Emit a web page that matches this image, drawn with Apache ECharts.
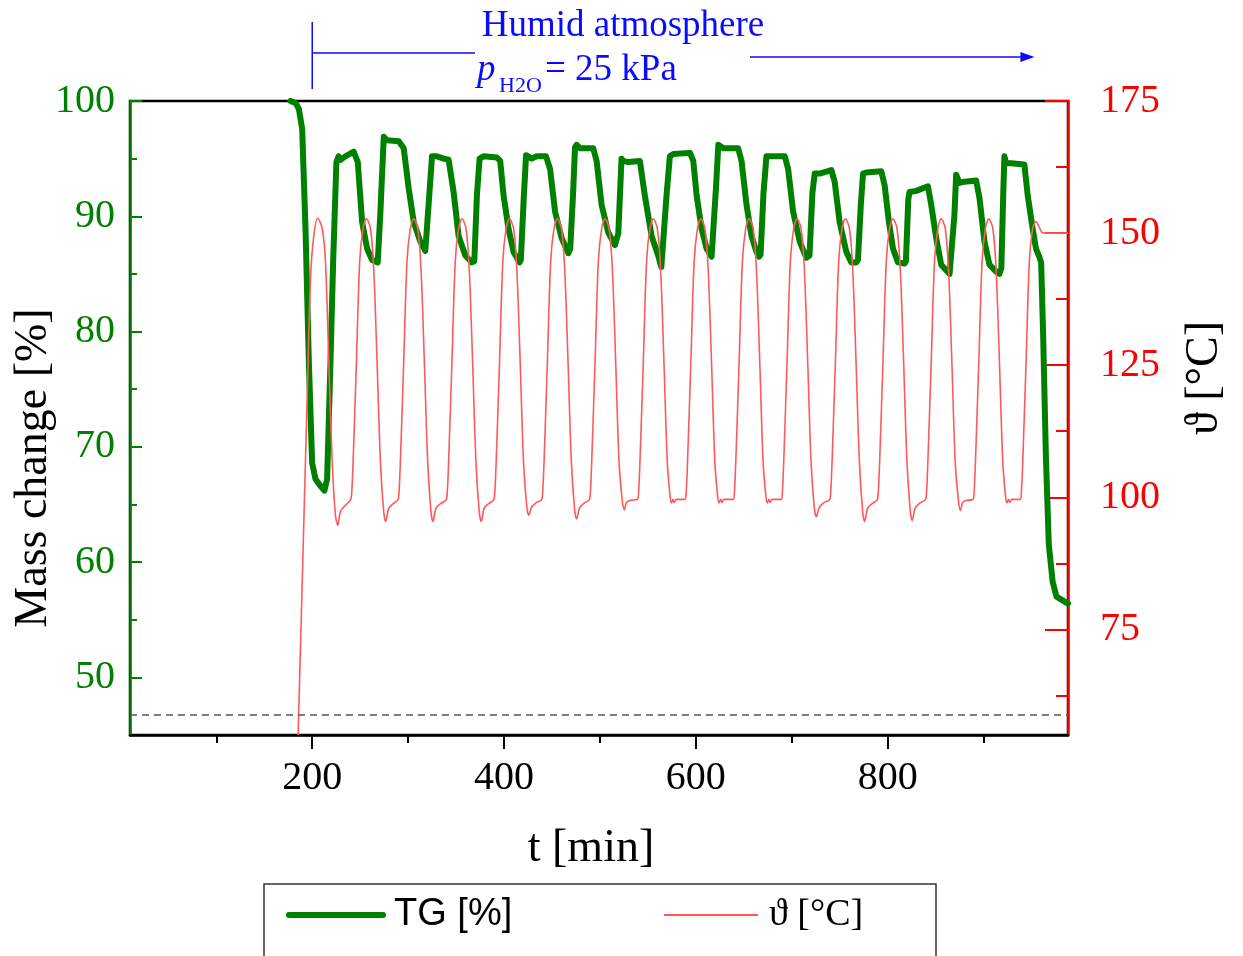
<!DOCTYPE html>
<html>
<head>
<meta charset="utf-8">
<script src="https://cdn.jsdelivr.net/npm/echarts@6/dist/echarts.min.js"></script>
<style>
html,body{margin:0;padding:0;background:#fff;}
#chart{width:1243px;height:956px;}
</style>
</head>
<body>
<div id="chart"></div>
<script>
// ---- data ----
// TG (mass change, %) : [t (min), value]
const tgData = [
[177.4,100],[183.0,99.8],[186.1,99.3],[189.5,97.6],[193.0,88.9],[196.5,77.3],[199.9,68.6],[203.4,67.2],[208.6,66.6],[212.7,66.2],[215.5,67.2],[219.0,77.3],[221.8,86.0],[225.2,94.7],[227.5,95.2],[229.5,94.9],[234.6,95.2],[243.3,95.6],[247.5,94.7],[252.0,89.5],[257.2,87.2],[262.4,86.2],[268.3,86.0],[271.1,90.4],[274.6,96.9],[278.0,96.6],[290.2,96.5],[295.4,95.9],[300.6,92.4],[305.8,89.5],[312.7,87.8],[317.9,87.0],[319.8,87.0],[324.9,95.2],[330.1,95.2],[337.0,95.0],[342.2,94.9],[347.4,92.1],[352.6,88.3],[359.6,86.6],[366.5,86.0],[369.0,86.1],[371.7,91.8],[374.5,95.0],[378.6,95.2],[392.5,95.1],[396.0,94.8],[399.5,91.8],[404.7,88.9],[409.9,86.9],[416.1,86.0],[417.5,86.2],[420.5,91.5],[423.0,95.3],[428.9,95.0],[434.1,95.2],[443.8,95.2],[448.0,94.1],[453.2,90.4],[460.1,88.1],[467.1,86.8],[469.0,87.2],[472.0,92.0],[474.0,96.0],[475.7,96.2],[479.2,95.9],[493.0,95.9],[496.5,94.8],[501.7,91.0],[508.6,88.6],[515.6,87.5],[517.3,87.4],[519.1,88.5],[522.5,95.0],[524.3,94.8],[529.5,94.7],[541.6,94.8],[546.8,91.8],[553.8,88.3],[560.7,86.6],[564.0,85.6],[566.0,85.7],[569.4,91.8],[572.9,95.2],[576.5,95.4],[593.9,95.5],[597.3,94.8],[600.8,91.8],[606.0,88.9],[611.2,87.2],[616.4,86.5],[618.0,86.6],[621.0,92.5],[623.4,96.2],[625.0,96.3],[628.5,95.9],[644.1,95.9],[647.6,94.8],[652.8,91.0],[658.0,88.3],[663.2,86.9],[666.0,86.5],[667.5,86.7],[670.5,92.0],[673.6,95.2],[678.8,95.2],[692.7,95.2],[696.2,94.1],[701.4,90.4],[708.3,87.8],[715.2,86.4],[717.0,86.3],[718.5,86.6],[721.5,92.0],[723.9,93.7],[729.1,93.7],[741.3,94.0],[744.7,93.0],[749.9,89.5],[756.9,86.9],[762.1,86.0],[767.3,86.0],[769.0,86.2],[772.0,91.0],[774.3,93.7],[777.7,93.8],[793.3,93.9],[796.8,92.7],[801.3,89.5],[805.5,87.2],[810.7,86.0],[817.6,85.9],[819.0,86.1],[821.5,91.5],[822.8,92.1],[829.8,92.2],[841.9,92.6],[845.4,91.0],[850.6,88.1],[855.8,85.8],[864.5,85.0],[866.5,85.1],[869.5,90.0],[871.4,93.6],[874.9,92.9],[880.1,93.0],[892.2,93.1],[895.7,91.6],[900.9,87.8],[906.1,85.8],[913.1,85.2],[916.5,85.0],[918.5,85.5],[920.5,92.0],[921.7,95.2],[923.5,94.6],[928.7,94.6],[942.5,94.5],[946.0,91.8],[951.2,88.9],[954.6,87.2],[958.0,86.5],[960.0,86.0],[962.0,80.0],[965.0,69.0],[968.0,61.5],[972.0,58.3],[976.0,57.0],[988.0,56.4]
];

// Temperature (°C) : [t (min), value]
const tempData = [
[185.3,55.0],[190.6,91.0],[194.8,119.3],[198.2,141.4],[201.7,149.6],[205.8,152.8],[210.4,150.9],[213.8,144.6],[217.3,125.7],[220.8,106.7],[224.2,96.6],[226.7,94.7],[229.4,97.3],[234.6,98.5],[240.0,99.5],
[241.2,101.0],[242.6,106.7],[246.1,125.7],[249.5,144.6],[253.0,150.9],[256.5,152.7],[260.7,150.9],[264.1,143.3],[267.6,125.7],[271.1,106.7],[274.5,97.3],[276.6,95.4],[279.7,97.9],[284.5,98.8],[289.3,99.5],
[290.5,101.0],[291.9,106.7],[295.4,125.7],[298.8,144.6],[302.3,150.9],[305.8,152.7],[310.0,150.9],[313.4,143.3],[316.9,125.7],[320.4,106.7],[323.8,97.3],[325.9,95.4],[329.0,97.9],[333.8,98.8],[339.6,99.5],
[340.8,101.0],[342.2,106.7],[345.7,125.7],[349.1,144.6],[352.6,150.9],[356.1,152.7],[360.3,150.9],[363.7,143.3],[367.2,125.7],[370.7,106.7],[374.1,97.3],[376.2,95.4],[379.3,97.9],[384.1,98.8],[389.2,99.5],
[390.4,101.0],[391.8,106.7],[395.3,125.7],[398.7,144.6],[402.2,150.9],[405.7,152.7],[409.9,150.9],[413.3,143.3],[416.8,125.7],[420.3,106.7],[423.7,98.2],[425.8,96.6],[428.9,98.2],[433.7,99.0],[439.1,99.5],
[440.3,101.0],[441.7,106.7],[445.2,125.7],[448.6,144.6],[452.1,150.9],[455.6,152.7],[459.8,150.9],[463.2,143.3],[466.7,125.7],[470.2,106.7],[473.6,97.6],[475.7,95.9],[478.8,98.0],[483.6,98.9],[488.8,99.5],
[490.0,101.0],[491.4,106.7],[494.9,125.7],[498.3,144.6],[501.8,150.9],[505.3,152.7],[509.5,150.9],[512.9,143.3],[516.4,125.7],[519.9,106.7],[523.3,99.3],[525.4,97.6],[527.5,99.0],[531.0,99.4],[539.1,99.6],
[540.3,101.0],[541.7,106.7],[545.2,125.7],[548.6,144.6],[552.1,150.9],[555.6,152.7],[559.8,150.9],[563.2,143.3],[566.7,125.7],[570.2,106.7],[573.1,100.2],[574.6,98.9],[576.1,99.6],[577.6,99.0],[579.6,99.6],[588.7,99.6],
[589.9,101.0],[591.3,106.7],[594.8,125.7],[598.2,144.6],[601.7,150.9],[605.2,152.7],[609.4,150.9],[612.8,143.3],[616.3,125.7],[619.8,106.7],[622.7,100.2],[624.2,98.9],[625.7,99.6],[627.2,99.0],[629.2,99.6],[639.0,99.6],
[640.2,101.0],[641.6,106.7],[645.1,125.7],[648.5,144.6],[652.0,150.9],[655.5,152.7],[659.7,150.9],[663.1,143.3],[666.6,125.7],[670.1,106.7],[673.0,100.2],[674.5,98.9],[676.0,99.6],[677.5,99.0],[679.5,99.6],[689.0,99.6],
[690.2,101.0],[691.6,106.7],[695.1,125.7],[698.5,144.6],[702.0,150.9],[705.5,152.7],[709.7,150.9],[713.1,143.3],[716.6,125.7],[720.1,106.7],[723.5,98.0],[725.6,96.3],[728.7,98.1],[733.5,99.0],[739.4,99.5],
[740.6,101.0],[742.0,106.7],[745.5,125.7],[748.9,144.6],[752.4,150.9],[755.9,152.7],[760.1,150.9],[763.5,143.3],[767.0,125.7],[770.5,106.7],[773.9,97.3],[776.0,95.4],[779.1,97.9],[783.9,98.8],[789.0,99.5],
[790.2,101.0],[791.6,106.7],[795.1,125.7],[798.5,144.6],[802.0,150.9],[805.5,152.7],[809.7,150.9],[813.1,143.3],[816.6,125.7],[820.1,106.7],[823.5,97.5],[825.6,95.6],[828.7,98.0],[833.5,98.9],[839.3,99.5],
[840.5,101.0],[841.9,106.7],[845.4,125.7],[848.8,144.6],[852.3,150.9],[855.8,152.7],[860.0,150.9],[863.4,143.3],[866.9,125.7],[870.4,106.7],[873.8,99.3],[875.9,97.5],[878.0,99.0],[881.5,99.4],[888.9,99.6],
[890.1,101.0],[891.5,106.7],[895.0,125.7],[898.4,144.6],[901.9,150.9],[905.4,152.7],[909.6,150.9],[913.0,143.3],[916.5,125.7],[920.0,106.7],[922.9,100.2],[924.4,98.9],[925.9,99.6],[927.4,99.0],[929.4,99.6],[938.2,99.6],
[939.4,101.0],[940.8,106.7],[944.3,125.7],[947.7,144.6],[951.2,150.9],[954.7,152.2],[957.5,151.3],[960.5,150.2],[963.0,150.0],[988.0,150.0]
];

const massRefLevel = 46.8;            // dashed reference line, % mass
const xMajorTicks = [200, 400, 600, 800];
const xMinorTicks = [100, 300, 500, 700, 900];
const leftMajorTicks = [50, 60, 70, 80, 90, 100];
const leftMinorTicks = [55, 65, 75, 85, 95];
const rightMajorTicks = [75, 100, 125, 150, 175];
const rightMinorTicks = [62.5, 87.5, 112.5, 137.5, 162.5];
const humidStart = 200;   // t where humid atmosphere begins
const humidEnd = 953;     // t where the arrow ends

// ---- chart ----
const SERIF = '"Liberation Serif", "Times New Roman", serif';
const SANS = '"Liberation Sans", Arial, sans-serif';
const GREEN = '#008000';
const RED = '#ff0000';
const TEMP = '#ff5a5a';

const chart = echarts.init(document.getElementById('chart'), null, {renderer: 'canvas'});

const hiddenSymbol = {color: 'rgba(0,0,0,0)', borderWidth: 0, opacity: 0};

const option = {
  animation: false,
  backgroundColor: '#ffffff',
  grid: {
    left: 130, top: 101, width: 938, height: 634,
    containLabel: false, outerBoundsMode: 'none',
    show: true, borderColor: '#000', borderWidth: 2.5, backgroundColor: 'transparent'
  },
  legend: [
    {
      data: ['TG [%]'], left: 286, top: 896, padding: 0,
      itemWidth: 94, itemHeight: 20,
      itemStyle: hiddenSymbol,
      lineStyle: {color: GREEN, width: 6, cap: 'round'},
      textStyle: {fontFamily: SANS, fontSize: 38, color: '#000', padding: [0, 0, 0, 6]}
    },
    {
      data: ['ϑ [°C]'], left: 663, top: 896, padding: 0,
      itemWidth: 94, itemHeight: 20,
      itemStyle: hiddenSymbol,
      lineStyle: {color: TEMP, width: 2},
      textStyle: {fontFamily: SERIF, fontSize: 38, color: '#000', padding: [0, 0, 0, 6]}
    }
  ],
  xAxis: [
    {
      type: 'value', min: 10, max: 988, position: 'bottom',
      axisLine: {show: true, lineStyle: {color: '#000', width: 2.5}},
      axisTick: {show: true, inside: false, length: 14, customValues: xMajorTicks, lineStyle: {color: '#000', width: 2}},
      axisLabel: {customValues: xMajorTicks, margin: 23, fontSize: 40, fontFamily: SERIF, color: '#000'},
      splitLine: {show: false},
      name: 't [min]', nameLocation: 'middle', nameGap: 91, nameMoveOverlap: false,
      nameTextStyle: {fontFamily: SERIF, fontSize: 46, color: '#000', padding: [0, 16, 0, 0]}
    },
    {
      type: 'value', min: 10, max: 988, position: 'bottom',
      axisLine: {show: false},
      axisTick: {show: true, inside: false, length: 8, customValues: xMinorTicks, lineStyle: {color: '#000', width: 2}},
      axisLabel: {show: false},
      splitLine: {show: false}
    }
  ],
  yAxis: [
    {
      type: 'value', min: 45, max: 100, position: 'left',
      axisLine: {show: true, lineStyle: {color: GREEN, width: 2.5}},
      axisTick: {show: true, inside: true, length: 12, customValues: leftMajorTicks, lineStyle: {color: GREEN, width: 2}},
      axisLabel: {customValues: leftMajorTicks, margin: 15, fontSize: 40, fontFamily: SERIF, color: GREEN},
      splitLine: {show: false},
      name: 'Mass change [%]', nameLocation: 'middle', nameGap: 73, nameMoveOverlap: false,
      nameTextStyle: {fontFamily: SERIF, fontSize: 46, color: '#000', padding: [0, 100, 0, 0]}
    },
    {
      type: 'value', min: 45, max: 100, position: 'left',
      axisLine: {show: false},
      axisTick: {show: true, inside: true, length: 7, customValues: leftMinorTicks, lineStyle: {color: GREEN, width: 2}},
      axisLabel: {show: false},
      splitLine: {show: false}
    },
    {
      type: 'value', min: 55, max: 175, position: 'right',
      axisLine: {show: true, lineStyle: {color: RED, width: 2.5}},
      axisTick: {show: true, inside: true, length: 23, customValues: rightMajorTicks, lineStyle: {color: RED, width: 2}},
      axisLabel: {customValues: rightMajorTicks, margin: 32, fontSize: 40, fontFamily: SERIF, color: RED},
      splitLine: {show: false},
      name: 'ϑ [°C]', nameLocation: 'middle', nameGap: 114, nameMoveOverlap: false,
      nameTextStyle: {fontFamily: SERIF, fontSize: 46, color: '#000', padding: [0, 0, 0, 80]}
    },
    {
      type: 'value', min: 55, max: 175, position: 'right',
      axisLine: {show: false},
      axisTick: {show: true, inside: true, length: 12, customValues: rightMinorTicks, lineStyle: {color: RED, width: 2}},
      axisLabel: {show: false},
      splitLine: {show: false}
    }
  ],
  series: [
    {
      name: 'TG [%]', type: 'line', xAxisIndex: 0, yAxisIndex: 0,
      data: tgData, symbol: 'none', showSymbol: false,
      lineStyle: {color: GREEN, width: 6, cap: 'round', join: 'round'},
      itemStyle: {color: GREEN},
      z: 3,
      markLine: {
        silent: true, symbol: 'none',
        label: {show: false},
        lineStyle: {color: '#555', width: 1.5, type: [7, 5]},
        data: [{yAxis: massRefLevel}]
      }
    },
    {
      name: 'ϑ [°C]', type: 'line', xAxisIndex: 0, yAxisIndex: 2,
      data: tempData, symbol: 'none', showSymbol: false,
      smooth: 0.3,
      lineStyle: {color: TEMP, width: 1.6},
      itemStyle: {color: TEMP},
      z: 4
    }
  ]
};

chart.setOption(option);

// ---- annotations (positions derived from the x scale) ----
const xs = chart.convertToPixel({xAxisIndex: 0}, humidStart);
const xe = chart.convertToPixel({xAxisIndex: 0}, humidEnd);
const BLUE = '#0a0aff';
chart.setOption({
  graphic: [
    {type: 'line', shape: {x1: xs, y1: 22, x2: xs, y2: 89}, style: {stroke: BLUE, lineWidth: 1.5}},
    {type: 'line', shape: {x1: xs, y1: 53, x2: 475, y2: 53}, style: {stroke: BLUE, lineWidth: 1.5}},
    {type: 'line', shape: {x1: 750, y1: 57, x2: xe - 10, y2: 57}, style: {stroke: BLUE, lineWidth: 1.5}},
    {type: 'polygon', shape: {points: [[xe, 57], [xe - 14, 52], [xe - 14, 62]]}, style: {fill: BLUE}},
    {type: 'text', x: 623, y: 26, style: {text: 'Humid atmosphere', font: '37px ' + SERIF, fill: BLUE, textAlign: 'center', textVerticalAlign: 'middle'}},
    {type: 'text', x: 477, y: 70, style: {text: 'p', font: 'italic 37px ' + SERIF, fill: BLUE, textAlign: 'left', textVerticalAlign: 'middle'}},
    {type: 'text', x: 499, y: 86, style: {text: 'H2O', font: '22px ' + SERIF, fill: BLUE, textAlign: 'left', textVerticalAlign: 'middle'}},
    {type: 'text', x: 545, y: 70, style: {text: '= 25 kPa', font: '37px ' + SERIF, fill: BLUE, textAlign: 'left', textVerticalAlign: 'middle'}},
    {type: 'rect', shape: {x: 264, y: 884, width: 672, height: 110}, style: {fill: 'none', stroke: '#333', lineWidth: 1.5}, z: -1}
  ]
});
</script>
</body>
</html>
